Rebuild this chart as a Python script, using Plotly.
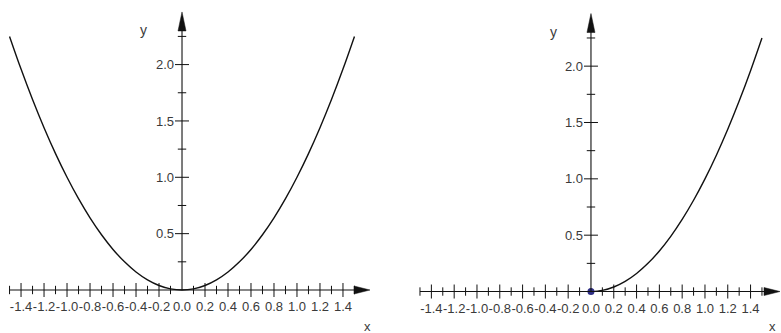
import plotly.graph_objects as go

# ---- data ----
CURVE_X = [-1.5, -1.4, -1.3, -1.2, -1.1, -1.0, -0.9, -0.8, -0.7, -0.6, -0.5, -0.4, -0.3, -0.2, -0.1,
           0.0, 0.1, 0.2, 0.3, 0.4, 0.5, 0.6, 0.7, 0.8, 0.9, 1.0, 1.1, 1.2, 1.3, 1.4, 1.5]
CURVE_Y = [2.25, 1.96, 1.69, 1.44, 1.21, 1.0, 0.81, 0.64, 0.49, 0.36, 0.25, 0.16, 0.09, 0.04, 0.01,
           0.0, 0.01, 0.04, 0.09, 0.16, 0.25, 0.36, 0.49, 0.64, 0.81, 1.0, 1.21, 1.44, 1.69, 1.96, 2.25]
HALF_X = [0.0, 0.1, 0.2, 0.3, 0.4, 0.5, 0.6, 0.7, 0.8, 0.9, 1.0, 1.1, 1.2, 1.3, 1.4, 1.5]
HALF_Y = [0.0, 0.01, 0.04, 0.09, 0.16, 0.25, 0.36, 0.49, 0.64, 0.81, 1.0, 1.21, 1.44, 1.69, 1.96, 2.25]

X_MAJOR = [-1.4, -1.2, -1.0, -0.8, -0.6, -0.4, -0.2, 0.0, 0.2, 0.4, 0.6, 0.8, 1.0, 1.2, 1.4]
X_LABELS = ["-1.4", "-1.2", "-1.0", "-0.8", "-0.6", "-0.4", "-0.2", "0.0",
            "0.2", "0.4", "0.6", "0.8", "1.0", "1.2", "1.4"]
X_MINOR = [-1.5, -1.3, -1.1, -0.9, -0.7, -0.5, -0.3, -0.1, 0.1, 0.3, 0.5, 0.7, 0.9, 1.1, 1.3, 1.5]
Y_MAJOR = [0.5, 1.0, 1.5, 2.0]
Y_LABELS = ["0.5", "1.0", "1.5", "2.0"]
Y_MINOR = [0.25, 0.75, 1.25, 1.75, 2.25]

X_AXIS_START = -1.5
X_ARROW_TIP_L = 1.635
X_ARROW_TIP_R = 1.658
Y_ARROW_TIP = 2.467

# ---- layout geometry ----
W, H = 781, 333
SPLIT = 390 / W
XR_L = [-1.583, 1.809]
YR_L = [-0.3815, 2.573]
XR_R = [-1.763, 1.667]
YR_R = [-0.368, 2.587]
DOM_L = [0.0, SPLIT]
DOM_R = [SPLIT, 1.0]

FONT = "Arial, Liberation Sans, sans-serif"
LABEL_COLOR = "#3a3a3a"
LINE = "#111111"


def frac(v, rng, dom):
    return dom[0] + (v - rng[0]) / (rng[1] - rng[0]) * (dom[1] - dom[0])


fig = go.Figure()

panels = [
    dict(xa="x", ya="y", xr=XR_L, yr=YR_L, dom=DOM_L, cx=CURVE_X, cy=CURVE_Y, tip=X_ARROW_TIP_L, dot=False),
    dict(xa="x2", ya="y2", xr=XR_R, yr=YR_R, dom=DOM_R, cx=HALF_X, cy=HALF_Y, tip=X_ARROW_TIP_R, dot=True),
]

for p in panels:
    xa, ya = p["xa"], p["ya"]
    # axis lines
    fig.add_shape(type="line", xref=xa, yref=ya, x0=X_AXIS_START, x1=p["tip"] - 0.05, y0=0, y1=0,
                  line=dict(color=LINE, width=1.1))
    fig.add_shape(type="line", xref=xa, yref=ya, x0=0, x1=0, y0=0, y1=Y_ARROW_TIP - 0.05,
                  line=dict(color=LINE, width=1.1))
    # arrowheads (pixel-sized paths anchored at the tips)
    fig.add_shape(type="path", xref=xa, yref=ya, xsizemode="pixel", ysizemode="pixel",
                  xanchor=p["tip"], yanchor=0, path="M0,0 L-16,4 L-16,-4 Z",
                  fillcolor=LINE, line=dict(color=LINE, width=0.5))
    fig.add_shape(type="path", xref=xa, yref=ya, xsizemode="pixel", ysizemode="pixel",
                  xanchor=0, yanchor=Y_ARROW_TIP, path="M0,0 L-4,-19 L4,-19 Z",
                  fillcolor=LINE, line=dict(color=LINE, width=0.5))
    # curve
    fig.add_trace(go.Scatter(x=p["cx"], y=p["cy"], mode="lines", xaxis=xa, yaxis=ya,
                             line=dict(color=LINE, width=1.4, shape="spline", smoothing=1.0),
                             hoverinfo="skip", showlegend=False))
    # x ticks
    fig.add_trace(go.Scatter(x=[v for v in X_MAJOR if v != 0], y=[0] * (len(X_MAJOR) - 1), mode="markers",
                             xaxis=xa, yaxis=ya,
                             marker=dict(symbol="line-ns", size=10, line=dict(color=LINE, width=1)),
                             hoverinfo="skip", showlegend=False))
    fig.add_trace(go.Scatter(x=X_MINOR, y=[0] * len(X_MINOR), mode="markers", xaxis=xa, yaxis=ya,
                             marker=dict(symbol="line-ns", size=6, line=dict(color=LINE, width=1)),
                             hoverinfo="skip", showlegend=False))
    # y ticks
    fig.add_trace(go.Scatter(x=[0] * len(Y_MAJOR), y=Y_MAJOR, mode="markers", xaxis=xa, yaxis=ya,
                             marker=dict(symbol="line-ew", size=10, line=dict(color=LINE, width=1)),
                             hoverinfo="skip", showlegend=False))
    fig.add_trace(go.Scatter(x=[0] * len(Y_MINOR), y=Y_MINOR, mode="markers", xaxis=xa, yaxis=ya,
                             marker=dict(symbol="line-ew", size=6, line=dict(color=LINE, width=1)),
                             hoverinfo="skip", showlegend=False))
    if p["dot"]:
        fig.add_trace(go.Scatter(x=[0], y=[0], mode="markers", xaxis=xa, yaxis=ya,
                                 marker=dict(size=7, color="#2e2e85"),
                                 hoverinfo="skip", showlegend=False))

# axis-name labels
fig.add_annotation(x=-0.339, y=2.307, xref="x", yref="y", text="y", showarrow=False,
                   font=dict(family=FONT, size=14, color=LABEL_COLOR))
fig.add_annotation(x=1.609, y=-0.32, xref="x", yref="y", text="x", showarrow=False,
                   font=dict(family=FONT, size=13, color=LABEL_COLOR))
fig.add_annotation(x=-0.333, y=2.307, xref="x2", yref="y2", text="y", showarrow=False,
                   font=dict(family=FONT, size=14, color=LABEL_COLOR))
fig.add_annotation(x=1.596, y=-0.31, xref="x2", yref="y2", text="x", showarrow=False,
                   font=dict(family=FONT, size=13, color=LABEL_COLOR))

tickfont = dict(family=FONT, size=13, color=LABEL_COLOR)


def xaxis_cfg(xr, dom, yr):
    return dict(domain=dom, range=xr, anchor="free", position=frac(0, yr, [0, 1]),
                showline=False, ticks="", showgrid=False, zeroline=False,
                tickmode="array", tickvals=X_MAJOR, ticktext=X_LABELS, tickfont=tickfont,
                tickangle=0, automargin=False,
                ticklabelstandoff=7, fixedrange=True)


def yaxis_cfg(yr, xr, dom):
    return dict(domain=[0, 1], range=yr, anchor="free", position=frac(0, xr, dom),
                showline=False, ticks="", showgrid=False, zeroline=False,
                tickmode="array", tickvals=Y_MAJOR, ticktext=Y_LABELS, tickfont=tickfont,
                automargin=False,
                ticklabelstandoff=8, fixedrange=True)


fig.update_layout(
    width=W, height=H,
    margin=dict(l=0, r=0, t=0, b=0, autoexpand=False),
    paper_bgcolor="white", plot_bgcolor="white",
    showlegend=False,
    xaxis=xaxis_cfg(XR_L, DOM_L, YR_L),
    yaxis=yaxis_cfg(YR_L, XR_L, DOM_L),
    xaxis2=xaxis_cfg(XR_R, DOM_R, YR_R),
    yaxis2=yaxis_cfg(YR_R, XR_R, DOM_R),
)

fig.write_html("out.html", config={"displayModeBar": False},
               post_script="document.body.style.margin='0px';document.body.style.overflow='hidden';")
